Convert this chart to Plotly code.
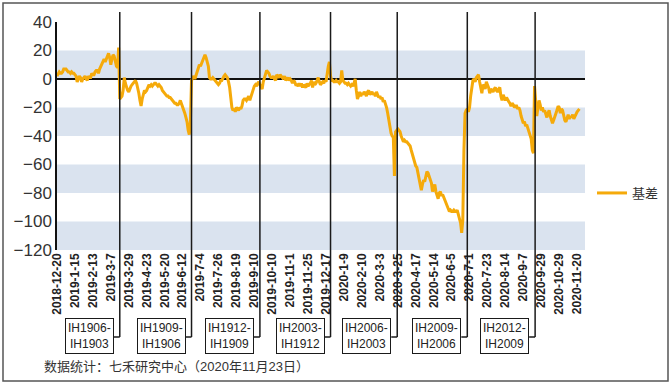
import plotly.graph_objects as go

# ---------------- data (trading-day index -> basis) ----------------
basis = [
    # 2018-12-20 .. (IH1903 era)
    2, 4, 5, 4, 4, 5, 7, 7, 7, 6,
    5, 5, 4, 5, 4, 4, 3, 2, -2, 0,
    2, 1, -2, 0, 1, 2, 0, -1, 2, 1,
    1, 4, 3, 3, 5, 6, 6, 4, 7, 9,
    11, 13, 14, 12, 14, 16, 18, 15, 10, 14,
    17, 16, 12, 9, 8, 22,
    # IH1906
    -14, -13, -12, -8, 1, -3, -6, -8, -9, -6,
    -5, -4, -3, -2, -1, -3, -6, -10, -15, -19,
    -14, -10, -8, -9, -8, -6, -4, -5, -4, -5,
    -4, -3, -3, -4, -5, -4, -5, -6, -8, -9,
    -10, -11, -12, -12, -13, -13, -14, -15, -16, -17,
    -17, -18, -18, -17, -15, -17, -19, -22, -24, -27,
    -30, -36, -39, -30,
    # IH1909
    -1, 1, 2, 0, 3, 5, 7, 10, 9, 11,
    12, 14, 17, 15, 12, 9, 1, 0, 0, 1,
    0, -1, -2, -3, -4, -3, -1, -1, 1, 2,
    3, 2, 1, -2, -6, -13, -20, -22, -21, -23,
    -20, -21, -22, -20, -21, -19, -15, -14, -14, -15,
    -13, -12, -15, -12, -10, -7, -5, -4, -5, -3, -2,
    # IH1912
    -4, -6, -7, -2, 1, 4, 6, 5, 4, 2,
    1, 1, 2, 0, -1, 3, 2, 1, 3, 2,
    1, 0, 2, -1, 0, 1, -1, 0, -1, -3,
    -1, -2, -4, -4, -5, -3, -5, -3, -6, -4,
    -5, -6, -3, -5, -4, -3, -1, -6, -2, -4,
    -3, -1, 1, -2, -4, -3, -2, -3, -1, -2,
    5, 9, 12, 2,
    # IH2003
    -1, -1, -2, -2, -1, -2, -2, -3, -2, 6,
    -1, -2, -3, -3, -4, -3, -4, -5, -4, -5,
    -3, 0, -8, -14, -12, -9, -12, -10, -11, -9,
    -10, -12, -9, -8, -11, -10, -9, -11, -10, -12,
    -9, -11, -13, -12, -14, -13, -16, -15, -17, -20,
    -24, -29, -35, -38, -40, -41, -68, -37, -36,
    # IH2006
    -35, -36, -37, -40, -42, -44, -43, -44, -44, -45,
    -46, -47, -50, -53, -55, -60, -61, -62, -66, -69,
    -72, -78, -74, -71, -72, -69, -65, -66, -69, -72,
    -73, -79, -77, -74, -79, -81, -84, -80, -79, -82,
    -81, -83, -85, -87, -89, -91, -93, -92, -93, -93,
    -92, -93, -93, -92, -95, -98, -101, -108, -99, -50,
    # IH2009
    -24, -22, -21, -23, -20, -12, -4, -1, 0, -2,
    1, 2, 3, -2, -6, -10, -4, -5, -7, -2,
    -4, -6, -10, -7, -8, -9, -7, -6, -8, -9,
    -7, -6, -12, -15, -11, -14, -15, -13, -15, -16,
    -17, -19, -17, -18, -20, -19, -19, -21, -20, -22,
    -26, -28, -31, -30, -33, -32, -35, -38, -40, -42, -50, -52,
    # IH2012
    -5, -18, -26, -20, -15, -18, -22, -20, -23, -22,
    -25, -27, -24, -22, -26, -28, -31, -29, -27, -25,
    -22, -19, -20, -24, -21, -22, -27, -29, -30, -27,
    -25, -28, -26, -27, -25, -28, -26, -25, -23, -22, -21,
]
day_index = list(range(len(basis)))

tick_labels = [
    "2018-12-20", "2019-1-15", "2019-2-13", "2019-3-7", "2019-3-29", "2019-4-23",
    "2019-5-20", "2019-6-12", "2019-7-4", "2019-7-26", "2019-8-19", "2019-9-10",
    "2019-10-10", "2019-11-1", "2019-11-25", "2019-12-17", "2020-1-9", "2020-2-10",
    "2020-3-3", "2020-3-25", "2020-4-17", "2020-5-14", "2020-6-5", "2020-7-1",
    "2020-7-23", "2020-8-14", "2020-9-7", "2020-9-29", "2020-10-29", "2020-11-20",
]
tick_step = 16
tick_vals = [i * tick_step for i in range(len(tick_labels))]

roll_days = [56, 120, 181, 244, 303.5, 366, 426.5]
roll_labels = ["IH1906-<br>IH1903", "IH1909-<br>IH1906", "IH1912-<br>IH1909",
               "IH2003-<br>IH1912", "IH2006-<br>IH2003", "IH2009-<br>IH2006",
               "IH2012-<br>IH2009"]

y_ticks = [40, 20, 0, -20, -40, -60, -80, -100, -120]
series_name = "基差"
caption = "数据统计：七禾研究中心（2020年11月23日）"

# ---------------- layout geometry ----------------
W, H = 672, 384
L, R, T, B = 57, 87, 22, 134
PW, PH = W - L - R, H - T - B
X_MAX = 471

def px_x(px):
    return (px - L) / PW

def px_y(py):
    return (H - B - py) / PH

LINE_COLOR = "#F5AA0A"
BAND_COLOR = "#DAE3EF"
FONT = "Liberation Sans, Arial, Noto Sans CJK SC, sans-serif"

fig = go.Figure()
fig.add_trace(go.Scatter(
    x=day_index, y=basis, mode="lines", name=series_name,
    line=dict(color=LINE_COLOR, width=3),
))

shapes = []
# alternating bands
for i in range(1, len(y_ticks) - 1, 2):
    shapes.append(dict(type="rect", xref="paper", yref="y", x0=0, x1=1,
                       y0=y_ticks[i + 1], y1=y_ticks[i], fillcolor=BAND_COLOR,
                       line=dict(width=0), layer="below"))

annotations = []
y_top = px_y(12)
y_elbow = px_y(337)
for d, lab in zip(roll_days, roll_labels):
    xp = d / X_MAX
    shapes.append(dict(type="line", xref="paper", yref="paper", x0=xp, x1=xp,
                       y0=y_top, y1=y_elbow, line=dict(color="#1a1a1a", width=1.5)))
    shapes.append(dict(type="line", xref="paper", yref="paper", x0=xp - 6 / PW, x1=xp,
                       y0=y_elbow, y1=y_elbow, line=dict(color="#1a1a1a", width=1.5)))
    annotations.append(dict(xref="paper", yref="paper", x=xp - 6 / PW, y=px_y(336),
                            xanchor="right", yanchor="middle", text=lab, showarrow=False,
                            align="center", bgcolor="white", bordercolor="#1a1a1a",
                            borderwidth=1, borderpad=2,
                            font=dict(family=FONT, size=12, color="#222")))

# outer frame
shapes.append(dict(type="rect", xref="paper", yref="paper", x0=px_x(3), x1=px_x(668),
                   y0=px_y(381), y1=px_y(3), line=dict(color="#555", width=1.5),
                   fillcolor="rgba(0,0,0,0)"))

annotations.append(dict(xref="paper", yref="paper", x=px_x(42), y=px_y(366),
                        xanchor="left", yanchor="middle", text=caption, showarrow=False,
                        font=dict(family=FONT, size=13, color="#333")))

fig.update_layout(
    width=W, height=H,
    margin=dict(l=L, r=R, t=T, b=B, autoexpand=False),
    paper_bgcolor="white", plot_bgcolor="white",
    font=dict(family=FONT, color="#333"),
    shapes=shapes, annotations=annotations,
    showlegend=True,
    legend=dict(x=px_x(592), y=px_y(193), xanchor="left", yanchor="middle",
                font=dict(family=FONT, size=13, color="#333"),
                bgcolor="rgba(0,0,0,0)"),
    xaxis=dict(range=[0, X_MAX], tickmode="array", tickvals=tick_vals,
               ticktext=tick_labels, tickangle=-90, showgrid=False, zeroline=False,
               showline=False, ticks="",
               tickfont=dict(family=FONT, size=12, color="#222", weight="bold")),
    yaxis=dict(range=[-120, 40], tickmode="array", tickvals=y_ticks,
               showgrid=False, zeroline=True, zerolinecolor="#111", zerolinewidth=1.5,
               showline=True, linecolor="#111", linewidth=1.5, ticks="",
               tickfont=dict(family=FONT, size=17, color="#333")),
)

fig.write_html("out.html", config={"displayModeBar": False},
               post_script="document.body.style.margin='0px';")
